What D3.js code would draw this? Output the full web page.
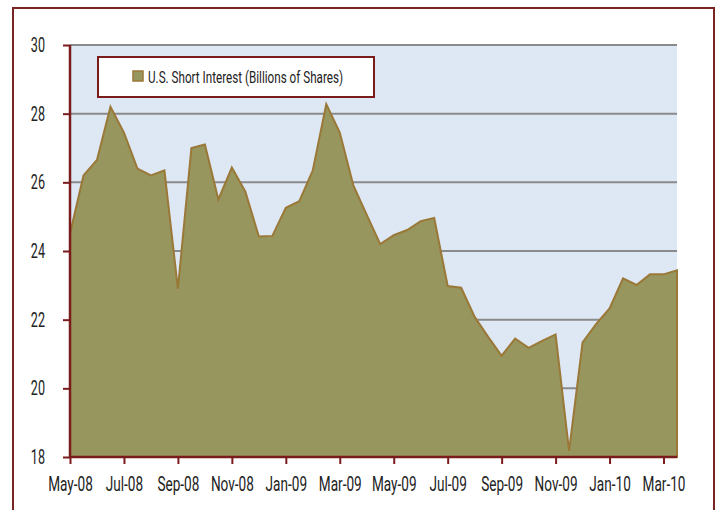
<!DOCTYPE html>
<html>
<head>
<meta charset="utf-8">
<script src="https://cdn.jsdelivr.net/npm/d3@7"></script>
<style>
  body { margin: 0; background: #fff; }
  text { font-family: Roboto, "Liberation Sans", sans-serif; fill: #222; }
</style>
</head>
<body>
<script>
// semi-monthly short interest, billions of shares (May-08 .. Mar-10)
var shortInterest = [24.5, 26.2, 26.65, 28.2, 27.45, 26.4, 26.2, 26.35, 22.9, 27.0,
                     27.1, 25.5, 26.43, 25.73, 24.42, 24.44, 25.26, 25.45, 26.35, 28.28,
                     27.45, 25.92, 25.05, 24.2, 24.46, 24.61, 24.87, 24.96, 22.98, 22.93,
                     22.08, 21.5, 20.95, 21.45, 21.18, 21.38, 21.57, 18.18, 21.34, 21.87,
                     22.33, 23.2, 23.01, 23.32, 23.32, 23.44];
var monthLabels = ["May-08", "Jul-08", "Sep-08", "Nov-08", "Jan-09", "Mar-09",
                   "May-09", "Jul-09", "Sep-09", "Nov-09", "Jan-10", "Mar-10"];
var yTicks = [18, 20, 22, 24, 26, 28, 30];
var seriesName = "U.S. Short Interest (Billions of Shares)";

var width = 718,
    height = 510;

var margin = {top: 45, left: 70, right: 41, bottom: 53};
var plotW = width - margin.left - margin.right,
    plotH = height - margin.top - margin.bottom;

var svg = d3.select("body").append("svg")
    .attr("width", width)
    .attr("height", height);

// outer frame (runs off the bottom of the picture)
svg.append("rect")
    .attr("x", 13).attr("y", 8)
    .attr("width", 701).attr("height", 530)
    .attr("fill", "none")
    .attr("stroke", "#7a2424")
    .attr("stroke-width", 2);

var g = svg.append("g")
    .attr("transform", "translate(" + margin.left + "," + margin.top + ")");

var x = d3.scaleLinear()
    .domain([0, shortInterest.length - 1])
    .range([0, plotW]);

var y = d3.scaleLinear()
    .domain([18, 30])
    .range([plotH, 0]);

g.append("rect")
    .attr("width", plotW).attr("height", plotH)
    .attr("fill", "#dde8f4");

// gridlines
g.selectAll(".grid")
  .data(yTicks.slice(1))
  .enter().append("line")
    .attr("x1", 0).attr("x2", plotW)
    .attr("y1", function(d) { return y(d); })
    .attr("y2", function(d) { return y(d); })
    .attr("stroke", "#8a8a8a")
    .attr("stroke-width", 2);

var area = d3.area()
    .x(function(d, i) { return x(i); })
    .y0(y(18))
    .y1(function(d) { return y(d); });

g.append("path")
    .datum(shortInterest)
    .attr("d", area)
    .attr("fill", "#97965e")
    .attr("stroke", "#9a7838")
    .attr("stroke-width", 2)
    .attr("stroke-linejoin", "miter");

// axes
var xAxis = d3.axisBottom(x)
    .tickValues(monthLabels.map(function(d, i) { return i * 4; }))
    .tickFormat(function(d) { return monthLabels[d / 4]; })
    .tickSize(7)
    .tickPadding(13);

var yAxis = d3.axisLeft(y)
    .tickValues(yTicks)
    .tickSize(7)
    .tickPadding(18);

var gx = g.append("g")
    .attr("transform", "translate(0," + plotH + ")")
    .call(xAxis);

var gy = g.append("g").call(yAxis);

[gx, gy].forEach(function(a) {
  a.select(".domain").attr("stroke", "#7a1c1c").attr("stroke-width", 2.5);
  a.selectAll(".tick line").attr("stroke", "#7a1c1c").attr("stroke-width", 2);
  a.selectAll(".tick text")
      .attr("font-family", "Roboto, sans-serif")
      .attr("font-size", 20)
      .attr("fill", "#222");
});
gx.select(".domain").attr("d", "M0,0H" + plotW);
gy.select(".domain").attr("d", "M0,0V" + plotH);

// squeeze labels horizontally to mimic the condensed face of the original
gx.selectAll(".tick text").each(function() {
  var t = d3.select(this), ty = +t.attr("y");
  t.attr("y", 0).attr("transform", "translate(0," + ty + ") scale(0.68,1)");
});
gy.selectAll(".tick text").each(function() {
  var t = d3.select(this), tx = +t.attr("x");
  t.attr("x", 0).attr("transform", "translate(" + tx + ",0) scale(0.63,1)");
});

// legend
var legend = g.append("g").attr("transform", "translate(28,12)");
legend.append("rect")
    .attr("width", 276).attr("height", 40)
    .attr("fill", "#fff")
    .attr("stroke", "#7a1c1c")
    .attr("stroke-width", 2);
legend.append("rect")
    .attr("x", 35).attr("y", 14)
    .attr("width", 10).attr("height", 10)
    .attr("fill", "#97965e")
    .attr("stroke", "#9a7838")
    .attr("stroke-width", 1.5);
legend.append("text")
    .attr("transform", "translate(50,25.5) scale(0.73,1)")
    .attr("font-size", 16)
    .text(seriesName);
</script>
</body>
</html>
